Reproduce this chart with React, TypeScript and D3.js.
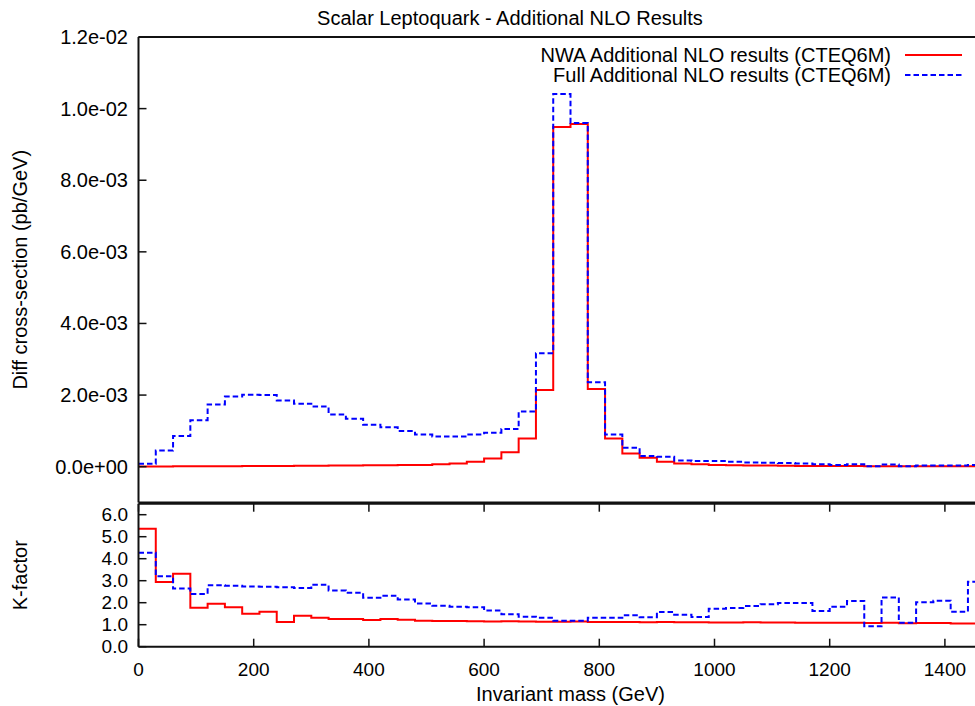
import React from "react";
import * as d3 from "d3";

// ---- data (bin width 30 GeV, bins start at 0) ----
const binWidth = 30;
// Differential cross-section, units of 1e-3 pb/GeV
const nwaTop = [0.005, 0.007, 0.009, 0.011, 0.013, 0.015, 0.017, 0.019, 0.021, 0.024, 0.027, 0.03, 0.034, 0.038, 0.043, 0.048, 0.05, 0.07, 0.09, 0.14, 0.23, 0.4, 0.79, 2.14, 9.49, 9.57, 2.17, 0.79, 0.37, 0.25, 0.14, 0.09, 0.07, 0.05, 0.04, 0.035, 0.03, 0.025, 0.022, 0.02, 0.018, 0.016, 0.014, 0.013, 0.012, 0.011, 0.01, 0.01, 0.009];
const fullTop = [0.08, 0.45, 0.86, 1.3, 1.74, 1.96, 2.01, 2.0, 1.85, 1.76, 1.68, 1.46, 1.34, 1.17, 1.1, 1.0, 0.9, 0.84, 0.84, 0.9, 0.95, 1.05, 1.54, 3.17, 10.41, 9.6, 2.36, 0.9, 0.53, 0.3, 0.28, 0.17, 0.16, 0.16, 0.14, 0.12, 0.11, 0.1, 0.09, 0.07, 0.05, 0.07, 0.01, 0.06, 0.01, 0.03, 0.03, 0.03, 0.05];
// K-factors
const nwaK = [5.36, 2.94, 3.32, 1.77, 1.95, 1.79, 1.5, 1.59, 1.12, 1.41, 1.32, 1.26, 1.26, 1.21, 1.26, 1.23, 1.18, 1.17, 1.17, 1.16, 1.14, 1.16, 1.15, 1.13, 1.13, 1.14, 1.12, 1.12, 1.12, 1.11, 1.12, 1.11, 1.11, 1.1, 1.1, 1.11, 1.1, 1.1, 1.09, 1.09, 1.09, 1.09, 1.08, 1.09, 1.07, 1.08, 1.08, 1.06, 1.06];
const fullK = [4.27, 3.2, 2.64, 2.4, 2.79, 2.77, 2.74, 2.73, 2.7, 2.67, 2.82, 2.56, 2.45, 2.23, 2.32, 2.15, 1.96, 1.86, 1.82, 1.79, 1.64, 1.47, 1.36, 1.32, 1.18, 1.18, 1.32, 1.32, 1.43, 1.34, 1.58, 1.45, 1.35, 1.73, 1.76, 1.85, 1.93, 1.99, 1.99, 1.62, 1.82, 2.08, 0.93, 2.24, 1.09, 2.02, 2.09, 1.59, 2.95];

const xTicks = [0, 200, 400, 600, 800, 1000, 1200, 1400];
const topYTicks = [0, 2e-3, 4e-3, 6e-3, 8e-3, 1e-2, 1.2e-2];
const kTicks = [0, 1, 2, 3, 4, 5, 6];

const title = "Scalar Leptoquark - Additional NLO Results";
const xLabel = "Invariant mass (GeV)";
const yLabelTop = "Diff cross-section (pb/GeV)";
const yLabelBottom = "K-factor";
const legendNames = ["NWA Additional NLO results (CTEQ6M)", "Full Additional NLO results (CTEQ6M)"];

const FONT = "'Liberation Sans', Arial, Helvetica, sans-serif";
const RED = "#ff0000";
const BLUE = "#0000ff";
const AXIS = "#111";

function fmtExp(v: number) {
  if (v === 0) return "0.0e+00";
  const e = Math.floor(Math.log10(Math.abs(v)) + 1e-9);
  const m = v / Math.pow(10, e);
  const sign = e < 0 ? "-" : "+";
  return `${m.toFixed(1)}e${sign}${String(Math.abs(e)).padStart(2, "0")}`;
}

export default function App() {
  const W = 975, H = 706;
  const left = 138.5;
  const x = d3.scaleLinear().domain([0, 1500]).range([left, left + 1500 * 0.576]);
  const yTop = d3.scaleLinear().domain([-1e-3, 1.2e-2]).range([502.5, 37]);
  const yK = d3.scaleLinear().domain([0, 6.5]).range([646.7, 503.7]);

  const stepPts = (vals: number[], scale: number) => {
    const pts: [number, number][] = vals.map((v, i) => [i * binWidth, v * scale]);
    pts.push([vals.length * binWidth, vals[vals.length - 1] * scale]);
    return pts;
  };
  const lineTop = d3.line<[number, number]>().x(d => x(d[0])).y(d => yTop(d[1])).curve(d3.curveStepAfter);
  const lineK = d3.line<[number, number]>().x(d => x(d[0])).y(d => yK(d[1])).curve(d3.curveStepAfter);

  const tickLen = 8;
  const fs = 20;
  const fsTick = 19;
  const fsLegend = 20;
  const fsExp = 20;

  return (
    <svg width={W} height={H} style={{ position: "absolute", left: 0, top: 0, background: "#fff" }} fontFamily={FONT}>
      <rect x={0} y={0} width={W} height={H} fill="#fff" />
      {/* title */}
      <text x={510} y={18} textAnchor="middle" dy="0.35em" fontSize={fs} fill="#000">{title}</text>

      {/* ---- top panel ---- */}
      <defs>
        <clipPath id="clipTop"><rect x={left} y={37} width={W} height={502.5 - 37} /></clipPath>
        <clipPath id="clipK"><rect x={left} y={503.7} width={W} height={646.7 - 503.7} /></clipPath>
      </defs>
      <g clipPath="url(#clipTop)">
        <path d={lineTop(stepPts(nwaTop, 1e-3)) || ""} fill="none" stroke={RED} strokeWidth={2} />
        <path d={lineTop(stepPts(fullTop, 1e-3)) || ""} fill="none" stroke={BLUE} strokeWidth={2} strokeDasharray="5.5,3" />
      </g>
      {topYTicks.map(t => (
        <g key={"yt" + t}>
          <line x1={left} x2={left + tickLen} y1={yTop(t)} y2={yTop(t)} stroke={AXIS} strokeWidth={1.5} />
          <text x={128} y={yTop(t)} dy="0.35em" textAnchor="end" fontSize={fsExp} fill="#000">{fmtExp(t)}</text>
        </g>
      ))}
      <line x1={left} x2={W} y1={37} y2={37} stroke={AXIS} strokeWidth={2} />
      <line x1={left} x2={W} y1={502.5} y2={502.5} stroke={AXIS} strokeWidth={2} />
      <line x1={left} x2={left} y1={37} y2={502.5} stroke={AXIS} strokeWidth={2} />
      <text transform={`translate(20,${(37 + 502.5) / 2}) rotate(-90)`} textAnchor="middle" dy="0.35em" fontSize={fs} fill="#000">{yLabelTop}</text>

      {/* legend */}
      {legendNames.map((n, i) => (
        <g key={n}>
          <text x={891} y={55 + i * 20} dy="0.35em" textAnchor="end" fontSize={fsLegend} fill="#000">{n}</text>
          <line x1={905} x2={962} y1={55 + i * 20} y2={55 + i * 20} stroke={i === 0 ? RED : BLUE} strokeWidth={2} strokeDasharray={i === 0 ? undefined : "5.5,3"} />
        </g>
      ))}

      {/* ---- bottom K-factor panel ---- */}
      <g clipPath="url(#clipK)">
        <path d={lineK(stepPts(nwaK, 1)) || ""} fill="none" stroke={RED} strokeWidth={2} />
        <path d={lineK(stepPts(fullK, 1)) || ""} fill="none" stroke={BLUE} strokeWidth={2} strokeDasharray="5.5,3" />
      </g>
      {kTicks.map(t => (
        <g key={"k" + t}>
          <line x1={left} x2={left + tickLen} y1={yK(t)} y2={yK(t)} stroke={AXIS} strokeWidth={1.5} />
          <text x={128} y={yK(t)} dy="0.35em" textAnchor="end" fontSize={fsTick} fill="#000">{t.toFixed(1)}</text>
        </g>
      ))}
      {xTicks.map(t => (
        <g key={"x" + t}>
          <line x1={x(t)} x2={x(t)} y1={646.7} y2={646.7 - tickLen} stroke={AXIS} strokeWidth={1.5} />
          <line x1={x(t)} x2={x(t)} y1={503.7} y2={503.7 + tickLen} stroke={AXIS} strokeWidth={1.5} />
          <text x={x(t)} y={669} dy="0.35em" textAnchor="middle" fontSize={fsTick} fill="#000">{t}</text>
        </g>
      ))}
      <line x1={left} x2={W} y1={503.7} y2={503.7} stroke={AXIS} strokeWidth={2} />
      <line x1={left} x2={W} y1={646.7} y2={646.7} stroke={AXIS} strokeWidth={2} />
      <line x1={left} x2={left} y1={503.7} y2={646.7} stroke={AXIS} strokeWidth={2} />
      <text transform={`translate(20,${(503.7 + 646.7) / 2}) rotate(-90)`} textAnchor="middle" dy="0.35em" fontSize={fs} fill="#000">{yLabelBottom}</text>
      <text x={x(750)} y={694} dy="0.35em" textAnchor="middle" fontSize={fs} fill="#000">{xLabel}</text>
    </svg>
  );
}
